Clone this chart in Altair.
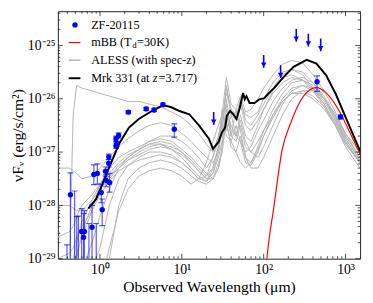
import altair as alt
import pandas as pd

FONT = "Liberation Serif"
W, H = 309, 253

# ---------------- data (log10 of nuF_nu in erg/s/cm2) ----------------
wl_grid = [0.3, 0.42, 0.47, 0.52, 0.6, 0.8, 1.0, 1.3, 1.7, 2.2, 3.0, 4.0, 5.5, 7.5, 10, 13, 16, 20,
           24, 28, 31, 35, 40, 46, 52, 60, 70, 85, 100, 130, 170, 220, 300, 400, 550, 750, 1000, 1500]

aless_01 = [-30, -29.5, -26.3, -25.75, -25.8, -25.85, -25.9, -25.95, -26.0, -26.05, -26.05, -26.1, -26.15, -26.25, -26.35, -26.5, -26.65, -26.85, -27.0, -26.7, -26.3, -25.6, -26.1, -26.2, -25.95, -26.25, -26.2, -26.0, -25.8, -25.55, -25.35, -25.28, -25.33, -25.55, -25.85, -26.25, -26.65, -27.1]
aless_02 = [-27.3, -27.3, -27.35, -27.4, -27.5, -27.45, -27.3, -27.1, -26.9, -26.75, -26.6, -26.5, -26.45, -26.5, -26.65, -26.8, -26.95, -27.1, -27.2, -27.0, -26.6, -25.75, -26.3, -26.4, -26.0, -26.4, -26.5, -26.3, -26.1, -25.8, -25.55, -25.45, -25.5, -25.7, -26.0, -26.4, -26.8, -27.2]
aless_03 = [-29.5, -29.3, -29.1, -28.9, -28.6, -28.1, -27.6, -27.3, -27.1, -27.0, -26.9, -26.8, -26.75, -26.8, -26.95, -27.1, -27.25, -27.4, -27.5, -27.3, -26.9, -26.0, -26.6, -26.7, -26.3, -26.7, -26.8, -26.5, -26.2, -25.85, -25.6, -25.55, -25.65, -25.85, -26.15, -26.5, -26.85, -27.2]
aless_04 = [-30, -30, -29.8, -29.5, -29.2, -28.7, -28.2, -27.7, -27.3, -27.1, -26.95, -26.85, -26.85, -26.95, -27.1, -27.3, -27.45, -27.55, -27.4, -27.0, -26.2, -26.7, -26.8, -26.5, -26.8, -27.0, -26.9, -26.6, -26.4, -26.05, -25.8, -25.65, -25.6, -25.7, -25.95, -26.3, -26.7, -27.1]
aless_05 = [-30, -30, -30, -29.8, -29.5, -29.2, -28.8, -28.0, -27.5, -27.25, -27.1, -27.0, -27.0, -27.05, -27.2, -27.35, -27.5, -27.55, -27.3, -26.9, -26.4, -26.1, -26.7, -26.2, -26.6, -27.1, -27.2, -26.9, -26.6, -26.2, -25.9, -25.7, -25.65, -25.75, -26.0, -26.35, -26.75, -27.15]
aless_06 = [-28.0, -28.0, -28.05, -28.1, -28.1, -27.9, -27.7, -27.5, -27.3, -27.15, -27.0, -26.9, -26.85, -26.9, -27.0, -27.2, -27.35, -27.5, -27.4, -27.1, -26.8, -26.2, -26.5, -26.7, -26.4, -26.8, -27.0, -27.1, -26.9, -26.5, -26.1, -25.85, -25.75, -25.8, -26.0, -26.35, -26.7, -27.1]
aless_07 = [-30, -30, -30, -30, -29.8, -29.5, -29.2, -29.0, -28.0, -27.5, -27.3, -27.2, -27.15, -27.2, -27.3, -27.45, -27.55, -27.6, -27.5, -27.2, -27.0, -26.4, -26.9, -27.0, -26.7, -27.1, -27.3, -27.3, -27.1, -26.7, -26.3, -26.0, -25.85, -25.85, -26.0, -26.3, -26.65, -27.0]
aless_08 = [-29.5, -29.2, -29.0, -28.7, -28.3, -27.9, -27.6, -27.4, -27.2, -27.05, -26.95, -26.85, -26.8, -26.85, -27.0, -27.15, -27.3, -27.45, -27.3, -26.9, -26.5, -25.8, -26.2, -26.4, -26.1, -26.5, -26.6, -26.4, -26.2, -25.9, -25.7, -25.6, -25.65, -25.8, -26.05, -26.4, -26.75, -27.15]
aless_09 = [-29.0, -28.9, -28.8, -28.6, -28.4, -28.1, -27.8, -27.55, -27.35, -27.25, -27.15, -27.1, -27.05, -27.1, -27.2, -27.35, -27.5, -27.45, -27.1, -26.7, -26.5, -26.6, -26.3, -26.7, -26.8, -27.2, -27.25, -27.0, -26.7, -26.3, -26.0, -25.8, -25.75, -25.85, -26.1, -26.45, -26.8, -27.2]
aless_10 = [-30, -30, -30, -30, -30, -29.8, -29.5, -28.8, -28.1, -27.7, -27.45, -27.35, -27.3, -27.35, -27.45, -27.6, -27.5, -27.2, -26.8, -26.5, -26.3, -26.5, -26.8, -27.0, -27.2, -27.3, -27.2, -26.95, -26.7, -26.35, -26.05, -25.9, -25.85, -25.95, -26.15, -26.45, -26.8, -27.2]
aless_11 = [-28.6, -28.5, -28.4, -28.2, -28.0, -27.8, -27.6, -27.45, -27.3, -27.15, -27.05, -26.95, -26.9, -26.95, -27.05, -27.2, -27.35, -27.5, -27.5, -27.3, -27.0, -26.3, -26.7, -26.8, -26.5, -26.9, -27.0, -26.8, -26.6, -26.3, -26.05, -25.9, -25.9, -26.0, -26.2, -26.5, -26.85, -27.2]
aless_12 = [-30, -30, -29.5, -29.0, -28.5, -28.0, -27.7, -27.45, -27.25, -27.1, -26.95, -26.8, -26.7, -26.7, -26.8, -26.95, -27.1, -27.3, -27.1, -26.8, -26.4, -25.9, -26.2, -26.3, -26.1, -26.3, -26.35, -26.25, -26.0, -25.7, -25.5, -25.45, -25.55, -25.8, -26.1, -26.5, -26.9, -27.3]
aless_all = [aless_01, aless_02, aless_03, aless_04, aless_05, aless_06,
             aless_07, aless_08, aless_09, aless_10, aless_11, aless_12]

mrk_wl = [0.72, 0.90, 1.31, 1.72, 2.26, 2.98, 4.30, 5.93, 7.45, 9.36, 12.3, 16.2, 21.4, 24.0, 28.1, 30.9, 33.8,
          35.5, 38.8, 42.5, 46.7, 51.1, 56.0, 58.6, 61.5, 67.3, 77.2, 88.6, 101.7, 116.6, 133.9, 176, 232, 335,
          441, 580, 764, 1005, 1324, 1549]
mrk_logf = [-28.06, -27.88, -27.27, -26.84, -26.54, -26.38, -26.23, -26.12, -26.16, -26.23, -26.29, -26.50, -26.75,
            -26.94, -26.81, -26.63, -26.54, -26.32, -26.23, -26.29, -26.38, -26.17, -25.89, -26.01, -25.95, -26.08,
            -26.08, -26.01, -25.99, -25.89, -25.80, -25.59, -25.40, -25.27, -25.34, -25.56, -25.92, -26.35, -26.78,
            -27.02]

mbb_wl = [104, 109.5, 134, 168, 212, 279, 367, 441, 580, 838, 1104, 1455, 1550]
mbb_logf = [-29.4, -29.0, -28.0, -26.96, -26.47, -26.05, -25.83, -25.79, -25.89, -26.23, -26.60, -26.99, -27.08]

phot_wl = [0.395, 0.435, 0.49, 0.52, 0.545, 0.598, 0.63, 0.644, 0.733, 0.80, 0.841, 0.90, 0.929, 1.036, 1.065,
           1.17, 1.19, 1.28, 1.28, 1.31, 1.57, 1.60, 1.57, 1.69, 2.22, 3.67, 4.58, 5.87, 8.09, 449, 869]
phot_logf = [-29.3, -27.80, -29.2, -29.3, -29.4, -28.49, -28.60, -28.49, -29.3, -28.41, -27.42, -29.4, -27.40,
             -27.76, -28.08, -27.36, -27.53, -27.21, -27.09, -27.57, -26.88, -26.85, -26.75, -26.69, -26.25,
             -26.19, -26.21, -26.11, -26.57, -25.68, -26.34]
phot_lo = [-30, -30, -30, -30, -30, -30, -30, -30, -30, -30, -27.61, -30, -27.60, -27.95, -28.38, -27.45, -27.65,
           -27.28, -27.14, -27.75, -26.93, -26.90, -26.80, -26.74, -26.28, -26.22, -26.24, -26.14, -26.72, -25.86,
           -26.38]
phot_hi = [-28.74, -27.39, -27.73, -28.21, -28.20, -28.06, -28.15, -28.10, -28.34, -28.00, -27.24, -28.34, -27.22,
           -27.60, -27.88, -27.28, -27.42, -27.14, -27.04, -27.40, -26.83, -26.80, -26.70, -26.64, -26.22, -26.16,
           -26.18, -26.08, -26.47, -25.57, -26.30]

ul_wl = [24.5, 100, 161, 250, 351, 497]
ul_logf = [-26.25, -25.18, -25.37, -24.69, -24.78, -24.87]

x_tick_values = [1, 10, 100, 1000]
x_tick_labels = ["10⁰", "10¹", "10²", "10³"]
y_tick_values = [1e-29, 1e-28, 1e-27, 1e-26, 1e-25]
y_tick_labels = ["10⁻²⁹", "10⁻²⁸", "10⁻²⁷", "10⁻²⁶", "10⁻²⁵"]

legend_labels = ["ZF-20115", "ALESS (with spec-z)"]

# ---------------- tables ----------------
rows = []
for i, tpl in enumerate(aless_all):
    for w, f in zip(wl_grid, tpl):
        rows.append({"tid": i, "wl": w, "flux": 10 ** f})
gray_df = pd.DataFrame(rows)
mrk_df = pd.DataFrame({"wl": mrk_wl, "flux": [10 ** v for v in mrk_logf]})
mbb_df = pd.DataFrame({"wl": mbb_wl, "flux": [10 ** v for v in mbb_logf]})
phot_df = pd.DataFrame({"wl": phot_wl, "flux": [10 ** v for v in phot_logf],
                        "lo": [10 ** v for v in phot_lo], "hi": [10 ** v for v in phot_hi]})
ul_df = pd.DataFrame({"wl": ul_wl, "flux": [10 ** v for v in ul_logf]})
ul_df["tip"] = ul_df["flux"] * 10 ** -0.24
ul_df["head"] = ul_df["flux"] * 10 ** -0.185

x_min = [d * 10 ** e for e in range(-1, 4) for d in range(2, 10) if 0.306 <= d * 10 ** e <= 1507]
y_min = [d * 10.0 ** e for e in range(-29, -24) for d in range(2, 10) if d * 10.0 ** e <= 10 ** -24.358]
xt_major = pd.DataFrame({"wl": x_tick_values})
xt_minor = pd.DataFrame({"wl": x_min})
yt_major = pd.DataFrame({"flux": y_tick_values})
yt_minor = pd.DataFrame({"flux": y_min})

# ---------------- scales / axes ----------------
xs = alt.Scale(type="log", domain=[0.306, 1507], nice=False)
ys = alt.Scale(type="log", domain=[1e-29, 10 ** -24.358], nice=False)

x_label_expr = "[" + ",".join("'%s'" % s for s in x_tick_labels) + "][round(log(datum.value)/LN10)]"
y_label_expr = "[" + ",".join("'%s'" % s for s in y_tick_labels) + "][round(log(datum.value)/LN10)+29]"

xaxis = alt.Axis(values=x_tick_values, labelExpr=x_label_expr, ticks=False, domain=False, grid=False,
                 labelFont=FONT, labelFontSize=14, labelColor="black", labelPadding=4,
                 titleFont=FONT, titleFontSize=16, titleFontWeight="normal", titleColor="black", titlePadding=3)
yaxis = alt.Axis(values=y_tick_values, labelExpr=y_label_expr, ticks=False, domain=False, grid=False,
                 labelFont=FONT, labelFontSize=14, labelColor="black", labelPadding=3,
                 titleFont=FONT, titleFontSize=16, titleFontWeight="normal", titleColor="black", titlePadding=2)
XT = "Observed Wavelength (μm)"
YT = "νFᵥ (erg/s/cm²)"


def X(f="wl"):
    return alt.X(f"{f}:Q", scale=xs, axis=xaxis, title=XT)


def Y(f="flux"):
    return alt.Y(f"{f}:Q", scale=ys, axis=yaxis, title=YT)


gray = alt.Chart(gray_df).mark_line(color="#b5b5b5", strokeWidth=1, clip=True).encode(
    x=X(), y=Y(), detail="tid:N")
red = alt.Chart(mbb_df).mark_line(color="red", strokeWidth=1.2, clip=True, interpolate="monotone").encode(
    x=X(), y=Y())
black = alt.Chart(mrk_df).mark_line(color="black", strokeWidth=2, clip=True).encode(x=X(), y=Y())

ebar = alt.Chart(phot_df).mark_rule(color="blue", opacity=0.65, strokeWidth=1.2, clip=True).encode(
    x=X(), y=Y("lo"), y2="hi:Q")
cap_lo = alt.Chart(phot_df).mark_tick(color="blue", opacity=0.65, orient="horizontal", size=6, thickness=1.2,
                                      clip=True).encode(x=X(), y=Y("lo"))
cap_hi = alt.Chart(phot_df).mark_tick(color="blue", opacity=0.65, orient="horizontal", size=6, thickness=1.2,
                                      clip=True).encode(x=X(), y=Y("hi"))
pts = alt.Chart(phot_df).mark_circle(color="blue", size=30, opacity=1, clip=True).encode(x=X(), y=Y())

ul_shaft = alt.Chart(ul_df).mark_rule(color="blue", strokeWidth=1.6).encode(x=X(), y=Y(), y2="tip:Q")
ul_head = alt.Chart(ul_df).mark_point(shape="triangle-down", filled=True, color="blue", size=32, opacity=1).encode(
    x=X(), y=Y("head"))

tk = dict(color="#222222", strokeWidth=0.8)
ticks = [
    alt.Chart(xt_major).mark_rule(**tk).encode(x=X(), y=alt.value(H), y2=alt.value(H - 5)),
    alt.Chart(xt_major).mark_rule(**tk).encode(x=X(), y=alt.value(0), y2=alt.value(5)),
    alt.Chart(xt_minor).mark_rule(**tk).encode(x=X(), y=alt.value(H), y2=alt.value(H - 2.5)),
    alt.Chart(xt_minor).mark_rule(**tk).encode(x=X(), y=alt.value(0), y2=alt.value(2.5)),
    alt.Chart(yt_major).mark_rule(**tk).encode(y=Y(), x=alt.value(0), x2=alt.value(5)),
    alt.Chart(yt_major).mark_rule(**tk).encode(y=Y(), x=alt.value(W), x2=alt.value(W - 5)),
    alt.Chart(yt_minor).mark_rule(**tk).encode(y=Y(), x=alt.value(0), x2=alt.value(2.5)),
    alt.Chart(yt_minor).mark_rule(**tk).encode(y=Y(), x=alt.value(W), x2=alt.value(W - 2.5)),
]

# ---------------- legend ----------------
one = pd.DataFrame({"a": [0]})
LF = 12.5
lx = 34


def ltext(txt, x, y, size=LF, style="normal", dy=0):
    return alt.Chart(one).mark_text(font=FONT, fontSize=size, fontStyle=style, align="left", baseline="middle",
                                    color="black", dy=dy).encode(x=alt.value(x), y=alt.value(y),
                                                                 text=alt.value(txt))


legend = [
    alt.Chart(one).mark_circle(color="blue", size=30, opacity=1).encode(x=alt.value(17.5), y=alt.value(14)),
    ltext(legend_labels[0], lx, 14),
    alt.Chart(one).mark_rule(color="red", strokeWidth=1.2).encode(x=alt.value(11), x2=alt.value(23),
                                                                   y=alt.value(32)),
    ltext("mBB (T", lx, 32),
    ltext("d", lx + 42, 32, size=9, dy=3),
    ltext("=30K)", lx + 47, 32),
    alt.Chart(one).mark_rule(color="#b5b5b5", strokeWidth=1.5).encode(x=alt.value(11), x2=alt.value(23),
                                                                       y=alt.value(50)),
    ltext(legend_labels[1], lx, 50),
    alt.Chart(one).mark_rule(color="black", strokeWidth=2).encode(x=alt.value(11), x2=alt.value(23),
                                                                   y=alt.value(68.5)),
    ltext("Mrk 331 (at ", lx, 68.5),
    ltext("z", lx + 63, 68.5, style="italic"),
    ltext("=3.717)", lx + 69, 68.5),
]

chart = alt.layer(
    gray, red, black, ebar, cap_lo, cap_hi, pts, ul_shaft, ul_head, *ticks, *legend
).properties(
    width=W, height=H,
    autosize=alt.AutoSizeParams(type="none"),
    padding={"left": 51, "top": 0, "right": 5, "bottom": 42},
).configure_view(stroke="#222222", strokeWidth=1)

chart.save("out.html", embed_options={"renderer": "svg", "actions": False})
